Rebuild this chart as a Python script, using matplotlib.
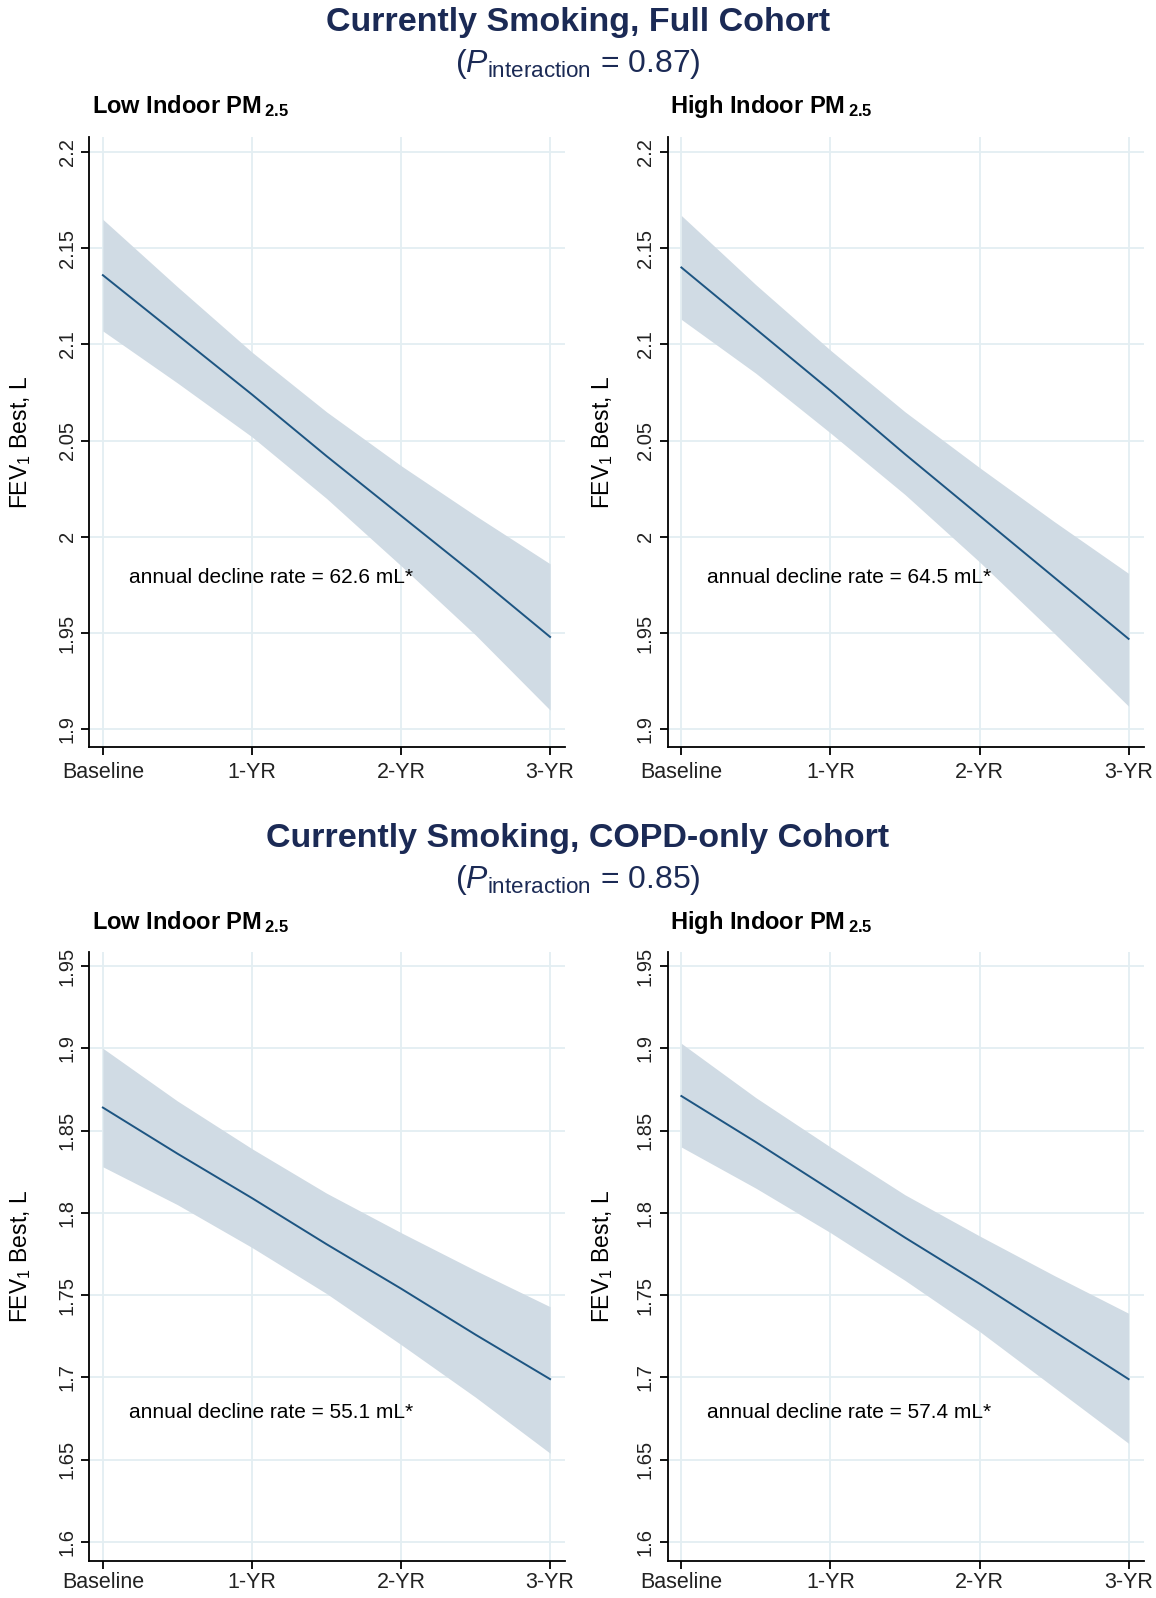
import matplotlib.pyplot as plt

# x positions (years since baseline) and tick labels
years = [0, 0.5, 1, 1.5, 2, 2.5, 3]
xtick_labels = ["Baseline", "1-YR", "2-YR", "3-YR"]

# Full cohort, low indoor PM2.5
full_low_fit = [2.136, 2.105, 2.074, 2.042, 2.011, 1.980, 1.948]
full_low_upper = [2.165, 2.130, 2.096, 2.065, 2.037, 2.011, 1.986]
full_low_lower = [2.107, 2.080, 2.052, 2.020, 1.985, 1.949, 1.910]

# Full cohort, high indoor PM2.5
full_high_fit = [2.140, 2.108, 2.076, 2.043, 2.011, 1.979, 1.947]
full_high_upper = [2.167, 2.131, 2.097, 2.065, 2.036, 2.008, 1.981]
full_high_lower = [2.113, 2.085, 2.054, 2.022, 1.987, 1.950, 1.912]

# COPD-only cohort, low indoor PM2.5
copd_low_fit = [1.864, 1.836, 1.809, 1.781, 1.754, 1.726, 1.699]
copd_low_upper = [1.900, 1.868, 1.839, 1.812, 1.788, 1.765, 1.743]
copd_low_lower = [1.828, 1.805, 1.779, 1.751, 1.720, 1.688, 1.654]

# COPD-only cohort, high indoor PM2.5
copd_high_fit = [1.871, 1.843, 1.814, 1.785, 1.757, 1.728, 1.699]
copd_high_upper = [1.903, 1.870, 1.840, 1.811, 1.786, 1.762, 1.739]
copd_high_lower = [1.840, 1.815, 1.788, 1.759, 1.728, 1.694, 1.660]

full_yticks = [1.9, 1.95, 2.0, 2.05, 2.1, 2.15, 2.2]
full_ylabels = ["1.9", "1.95", "2", "2.05", "2.1", "2.15", "2.2"]
copd_yticks = [1.6, 1.65, 1.7, 1.75, 1.8, 1.85, 1.9, 1.95]
copd_ylabels = ["1.6", "1.65", "1.7", "1.75", "1.8", "1.85", "1.9", "1.95"]

rate_notes = ["annual decline rate = 62.6 mL*", "annual decline rate = 64.5 mL*",
              "annual decline rate = 55.1 mL*", "annual decline rate = 57.4 mL*"]
section_titles = ["Currently Smoking, Full Cohort", "Currently Smoking, COPD-only Cohort"]
p_values = ["0.87", "0.85"]
panel_titles = [r"Low Indoor PM$\,_{\mathbf{2.5}}$", r"High Indoor PM$\,_{\mathbf{2.5}}$"]

plt.rcParams['font.family'] = 'Liberation Sans'
plt.rcParams['mathtext.fontset'] = 'custom'
plt.rcParams['mathtext.rm'] = 'Liberation Sans'
plt.rcParams['mathtext.it'] = 'Liberation Sans:italic'
plt.rcParams['mathtext.bf'] = 'Liberation Sans:bold'

BAND = '#d0dbe4'
LINE = '#1d5582'
GRID = '#e3eef2'
NAVY = '#1b2a55'
TICK = '#222222'

W, H = 1156, 1598
fig = plt.figure(figsize=(W / 100, H / 100), dpi=100)


def px_box(x0, y0, x1, y1):
    return [x0 / W, 1 - y1 / H, (x1 - x0) / W, (y1 - y0) / H]


def draw_panel(ax, fit, lower, upper, ylim, yticks, ylabels, note, note_y, label_x, xpad):
    ax.fill_between(years, lower, upper, color=BAND, lw=0, zorder=2)
    ax.plot(years, fit, color=LINE, lw=1.4, zorder=3)
    ax.set_xlim(-0.093, 3.10)
    ax.set_ylim(*ylim)
    ax.set_xticks(range(4))
    ax.set_xticklabels(xtick_labels, fontsize=15.5, color=TICK)
    ax.set_yticks(yticks)
    ax.set_yticklabels(ylabels, rotation=90, va='center', fontsize=14.5, color=TICK)
    ax.grid(color=GRID, lw=1.3, zorder=0)
    ax.set_axisbelow(True)
    for s in ['top', 'right']:
        ax.spines[s].set_visible(False)
    for s in ['left', 'bottom']:
        ax.spines[s].set_linewidth(1.3)
    ax.tick_params(length=6, width=1.3, pad=3)
    ax.tick_params(axis='x', pad=xpad)
    ax.text(0.174, note_y, note, fontsize=15, va='center', zorder=4)
    ax.set_ylabel(r'FEV$_1$ Best, L', fontsize=16.5)
    ax.yaxis.set_label_coords(label_x, 0.5)


ax1 = fig.add_axes(px_box(89, 137, 565, 747))
draw_panel(ax1, full_low_fit, full_low_lower, full_low_upper, (1.8908, 2.2078),
           full_yticks, full_ylabels, rate_notes[0], 1.979, -0.118, 5)
ax2 = fig.add_axes(px_box(667.5, 137, 1143.5, 747))
draw_panel(ax2, full_high_fit, full_high_lower, full_high_upper, (1.8908, 2.2078),
           full_yticks, full_ylabels, rate_notes[1], 1.979, -0.11, 5)
ax3 = fig.add_axes(px_box(89, 952, 565, 1561))
draw_panel(ax3, copd_low_fit, copd_low_lower, copd_low_upper, (1.5885, 1.9585),
           copd_yticks, copd_ylabels, rate_notes[2], 1.679, -0.118, 2)
ax4 = fig.add_axes(px_box(667.5, 952, 1143.5, 1561))
draw_panel(ax4, copd_high_fit, copd_high_lower, copd_high_upper, (1.5885, 1.9585),
           copd_yticks, copd_ylabels, rate_notes[3], 1.679, -0.11, 2)

# section headings
for title, p, ty, py, sy in zip(section_titles, p_values, [22, 838], [64, 880], [106, 922]):
    fig.text(0.5, 1 - ty / H, title, ha='center', va='center', fontsize=24.5,
             fontweight='bold', color=NAVY)
    fig.text(0.5, 1 - py / H, r"($\mathit{P}_{\mathrm{interaction}}$ = " + p + ")",
             ha='center', va='center', fontsize=23, color=NAVY)
    fig.text(92 / W, 1 - sy / H, panel_titles[0], ha='left', va='center',
             fontsize=17, fontweight='bold')
    fig.text(670 / W, 1 - sy / H, panel_titles[1], ha='left', va='center',
             fontsize=17, fontweight='bold')

fig.savefig('out.png', dpi=100)
